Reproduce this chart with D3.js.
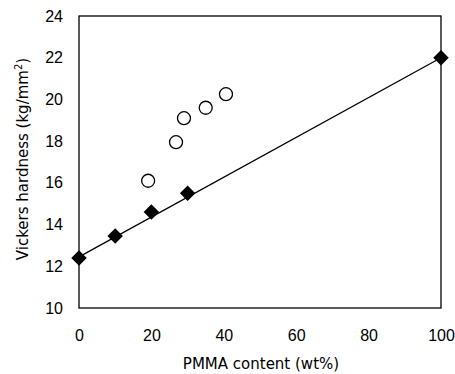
<!DOCTYPE html>
<html>
<head>
<meta charset="utf-8">
<script src="https://cdn.jsdelivr.net/npm/d3@7"></script>
<style>
  body { margin: 0; background: #fff; }
  text { font-family: "Liberation Sans", Arial, sans-serif; fill: #000; }
  .title { font-family: "DejaVu Sans", sans-serif; }
</style>
</head>
<body>
<div id="chart"></div>
<script>
// filled diamonds (measured series)
const pmmaFilled = [0, 10, 20, 30, 100];
const hardFilled = [12.4, 13.45, 14.6, 15.5, 22.0];
// open circles
const pmmaOpen = [19.1, 26.8, 29.0, 35.0, 40.6];
const hardOpen = [16.1, 17.95, 19.1, 19.6, 20.25];
// fitted line end points
const lineX = [0, 100];
const lineY = [12.45, 22.0];

const xTicks = [0, 20, 40, 60, 80, 100];
const yTicks = [10, 12, 14, 16, 18, 20, 22, 24];

const W = 455, H = 374;
const margin = { top: 16, right: 14, bottom: 66, left: 79 };
const width = W - margin.left - margin.right;
const height = H - margin.top - margin.bottom;

const svg = d3.select('#chart')
  .append('svg')
  .attr('width', W)
  .attr('height', H);

const g = svg.append('g')
  .attr('transform', 'translate(' + margin.left + ',' + margin.top + ')');

const x = d3.scaleLinear().domain([0, 100]).range([0, width]);
const y = d3.scaleLinear().domain([10, 24]).range([height, 0]);

// frame
g.append('rect')
  .attr('x', 0).attr('y', 0)
  .attr('width', width).attr('height', height)
  .attr('fill', 'none')
  .attr('stroke', '#000')
  .attr('stroke-width', 1.3);

const xAxis = g.append('g')
  .attr('transform', 'translate(0,' + height + ')')
  .call(d3.axisBottom(x).tickValues(xTicks).tickSize(0).tickPadding(22));
xAxis.select('.domain').remove();
xAxis.selectAll('text').style('font-size', '16px');

const yAxis = g.append('g')
  .call(d3.axisLeft(y).tickValues(yTicks).tickSize(0).tickPadding(16));
yAxis.select('.domain').remove();
yAxis.selectAll('text').style('font-size', '16px');

// fitted line
const line = d3.line()
  .x((d, i) => x(lineX[i]))
  .y((d, i) => y(lineY[i]));
g.append('path')
  .datum(lineX)
  .attr('d', line)
  .attr('fill', 'none')
  .attr('stroke', '#000')
  .attr('stroke-width', 1.3);

// open circles
g.selectAll('circle.open')
  .data(pmmaOpen)
  .join('circle')
  .attr('class', 'open')
  .attr('cx', (d) => x(d))
  .attr('cy', (d, i) => y(hardOpen[i]))
  .attr('r', 6.5)
  .attr('fill', '#fff')
  .attr('stroke', '#000')
  .attr('stroke-width', 1.3);

// diamonds
const diamond = d3.symbol().type(d3.symbolSquare).size(120);
g.selectAll('path.dia')
  .data(pmmaFilled)
  .join('path')
  .attr('class', 'dia')
  .attr('d', diamond)
  .attr('transform', (d, i) => 'translate(' + x(d) + ',' + y(hardFilled[i]) + ') rotate(45)')
  .attr('fill', '#000');

// axis titles
svg.append('text')
  .attr('class', 'title')
  .attr('x', 261)
  .attr('y', 369)
  .attr('text-anchor', 'middle')
  .style('font-size', '15px')
  .text('PMMA content (wt%)');

const yt = svg.append('text')
  .attr('class', 'title')
  .attr('transform', 'translate(28,159) rotate(-90)')
  .attr('text-anchor', 'middle')
  .style('font-size', '15px');
yt.append('tspan').text('Vickers hardness (kg/mm');
yt.append('tspan').attr('dy', -6).style('font-size', '10px').text('2');
yt.append('tspan').attr('dy', 6).text(')');
</script>
</body>
</html>
